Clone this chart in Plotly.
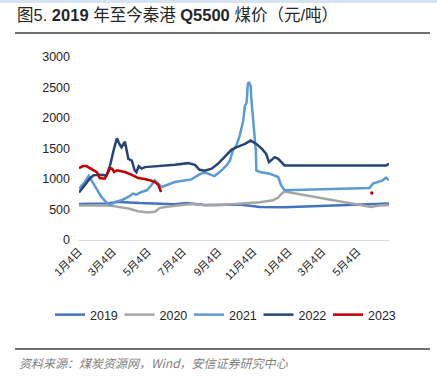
import plotly.graph_objects as go

# ---------------- data ----------------
dates_2019 = ["2021-01-04", "2021-02-20", "2021-03-15", "2021-04-20", "2021-06-20", "2021-07-10",
              "2021-08-11", "2021-09-15", "2021-10-11", "2021-11-15", "2021-12-28", "2022-06-28"]
vals_2019 = [590, 600, 625, 605, 585, 605, 572, 575, 580, 540, 535, 600]

dates_2020 = ["2021-01-04", "2021-02-24", "2021-03-13", "2021-03-31", "2021-04-17", "2021-05-04",
              "2021-05-16", "2021-05-25", "2021-06-20", "2021-07-19", "2021-08-11", "2021-09-03",
              "2021-09-27", "2021-10-20", "2021-11-15", "2021-12-08", "2021-12-17", "2021-12-22",
              "2021-12-28", "2022-05-28", "2022-06-11", "2022-06-28"]
vals_2020 = [565, 570, 543, 516, 473, 451, 462, 527, 560, 590, 570, 570,
             585, 598, 620, 650, 696, 750, 795, 540, 565, 575]

dates_2021 = ["2021-01-04", "2021-01-14", "2021-01-21", "2021-01-29", "2021-02-04", "2021-02-12",
              "2021-02-21", "2021-02-27", "2021-03-08", "2021-03-19", "2021-03-31", "2021-04-08",
              "2021-04-14", "2021-04-23", "2021-05-02", "2021-05-10", "2021-05-16", "2021-05-22",
              "2021-05-28", "2021-06-20", "2021-07-07", "2021-07-19", "2021-07-30", "2021-08-08",
              "2021-08-14", "2021-08-23", "2021-08-28", "2021-09-06", "2021-09-18", "2021-09-24",
              "2021-09-29", "2021-10-05", "2021-10-11", "2021-10-17", "2021-10-20", "2021-10-23",
              "2021-10-25", "2021-10-27", "2021-10-30", "2021-10-31", "2021-11-03", "2021-11-06",
              "2021-11-08", "2021-11-09", "2021-11-15", "2021-12-02", "2021-12-17", "2021-12-20",
              "2021-12-22", "2021-12-28", "2022-05-25", "2022-05-31", "2022-06-06", "2022-06-11",
              "2022-06-17", "2022-06-23", "2022-06-28"]
vals_2021 = [840, 951, 1050, 924, 815, 706,
             614, 570, 624, 652, 706, 761,
             745, 787, 815, 897, 978, 924,
             869, 951, 978, 994, 1060, 1103,
             1097, 1060, 1048, 1114, 1223, 1304,
             1467, 1548, 1712, 1956, 2200, 2254,
             2554, 2590, 2526, 2336, 1956, 1684,
             1467, 1141, 1114, 1087, 1032, 951,
             897, 815, 853, 924, 940, 951,
             978, 1022, 978]

dates_2022 = ["2021-01-04", "2021-01-23", "2021-01-29", "2021-02-09", "2021-02-21", "2021-02-27",
              "2021-03-06", "2021-03-11", "2021-03-15", "2021-03-19", "2021-03-25", "2021-03-31",
              "2021-04-06", "2021-04-11", "2021-04-14", "2021-04-18", "2021-04-23", "2021-04-29",
              "2021-06-20", "2021-07-13", "2021-07-25", "2021-08-02", "2021-08-11", "2021-08-23",
              "2021-09-03", "2021-09-15", "2021-09-27", "2021-10-05", "2021-10-20", "2021-10-30",
              "2021-11-09", "2021-11-18", "2021-11-26", "2021-12-01", "2021-12-05", "2021-12-11",
              "2021-12-17", "2021-12-22", "2021-12-28", "2022-06-23", "2022-06-28"]
vals_2022 = [780, 1010, 1060, 1070, 1060, 1220,
             1495, 1668, 1580, 1520, 1610, 1330,
             1300, 1140, 1110, 1210, 1170, 1195,
             1233, 1260, 1233, 1150, 1135, 1170,
             1250, 1358, 1483, 1520, 1575, 1630,
             1575, 1500, 1413, 1276, 1315, 1358,
             1330, 1276, 1223, 1223, 1250]

dates_2023 = ["2021-01-04", "2021-01-11", "2021-01-17", "2021-01-26", "2021-02-04", "2021-02-09",
              "2021-02-18", "2021-02-24", "2021-02-27", "2021-03-03", "2021-03-06", "2021-03-11",
              "2021-03-25", "2021-04-08", "2021-04-17", "2021-04-26", "2021-05-04", "2021-05-16",
              "2021-05-22", "2021-05-27"]
vals_2023 = [1178, 1212, 1212, 1168, 1114, 1016,
             1005, 1114, 1179, 1168, 1114, 1141,
             1114, 1060, 1016, 1005, 989, 951,
             907, 787]
dot_2023_date = ["2022-05-29"]
dot_2023_val = [771]

tick_dates = ["2021-01-04", "2021-03-04", "2021-05-04", "2021-07-04", "2021-09-04",
              "2021-11-04", "2022-01-04", "2022-03-04", "2022-05-04"]
tick_labels = ["1月4日", "3月4日", "5月4日", "7月4日", "9月4日", "11月4日", "1月4日", "3月4日", "5月4日"]

series_names = ["2019", "2020", "2021", "2022", "2023"]
series_colors = ["#4472C4", "#A5A5A5", "#5B9BD5", "#264478", "#C00000"]

title_text = "图5. <b>2019</b> 年至今秦港 <b>Q5500</b> 煤价（元/吨）"
source_text = "资料来源：煤炭资源网，Wind，安信证券研究中心"

# ---------------- figure ----------------
FONT = "Liberation Sans, Arial, Noto Sans CJK SC, sans-serif"
fig = go.Figure()
all_x = [dates_2019, dates_2020, dates_2021, dates_2022, dates_2023]
all_y = [vals_2019, vals_2020, vals_2021, vals_2022, vals_2023]
for name, color, xs, ys in zip(series_names, series_colors, all_x, all_y):
    fig.add_trace(go.Scatter(x=xs, y=ys, name=name, mode="lines",
                             line=dict(color=color, width=2.5), hoverinfo="skip"))
fig.add_trace(go.Scatter(x=dot_2023_date, y=dot_2023_val, mode="markers", showlegend=False,
                         marker=dict(color=series_colors[4], size=3.5), hoverinfo="skip"))

fig.update_layout(
    width=437, height=381,
    margin=dict(l=79, r=48, t=57, b=141),
    paper_bgcolor="white", plot_bgcolor="white",
    font=dict(family=FONT, size=12, color="#262626"),
    showlegend=True,
    legend=dict(orientation="h", x=-29/310, xanchor="left",
                y=-75/183, yanchor="middle",
                font=dict(size=12.5, color="#262626"), bgcolor="rgba(0,0,0,0)",
                itemwidth=30, entrywidthmode="pixels", entrywidth=24.5, tracegroupgap=0),
    xaxis=dict(type="date", range=["2021-01-04", "2022-06-28"],
               tickmode="array", tickvals=tick_dates, ticktext=tick_labels,
               tickangle=-45, tickfont=dict(size=11, color="#262626"),
               showgrid=False, zeroline=False, showline=True, linecolor="#D9D9D9",
               linewidth=1, ticks=""),
    yaxis=dict(range=[0, 3000], tickvals=[0, 500, 1000, 1500, 2000, 2500, 3000],
               showgrid=False, zeroline=False, showline=False, ticks="",
               tickfont=dict(size=12.5, color="#262626"), ticklabelstandoff=8),
)

# top decorative bar
fig.add_shape(type="rect", xref="paper", yref="paper", x0=-79/310, x1=358/310,
              y0=1 + 54/183, y1=1 + 57/183, line_width=0, fillcolor="#D6E4F4", layer="below")
# title
fig.add_annotation(text=title_text, xref="paper", yref="paper", x=-64/310, y=1 + 42/183,
                   xanchor="left", yanchor="middle", showarrow=False,
                   font=dict(size=16.5, color="#262626", family="Liberation Sans, Noto Sans CJK SC"))
# title underline
fig.add_shape(type="line", xref="paper", yref="paper", x0=-64/310, x1=351/310,
              y0=1 + 24/183, y1=1 + 24/183, line=dict(color="#404040", width=1.5))
# footer line
fig.add_shape(type="line", xref="paper", yref="paper", x0=-64/310, x1=351/310,
              y0=-109/183, y1=-109/183, line=dict(color="#404040", width=1.5))
# source
fig.add_annotation(text="<i>" + source_text + "</i>", xref="paper", yref="paper",
                   x=-62/310, y=-122/183, xanchor="left", yanchor="middle", showarrow=False,
                   font=dict(size=12, color="#7F7F7F", family="Noto Sans CJK SC"))

fig.write_html("out.html", config={"displayModeBar": False},
               post_script="document.body.style.margin='0';")
